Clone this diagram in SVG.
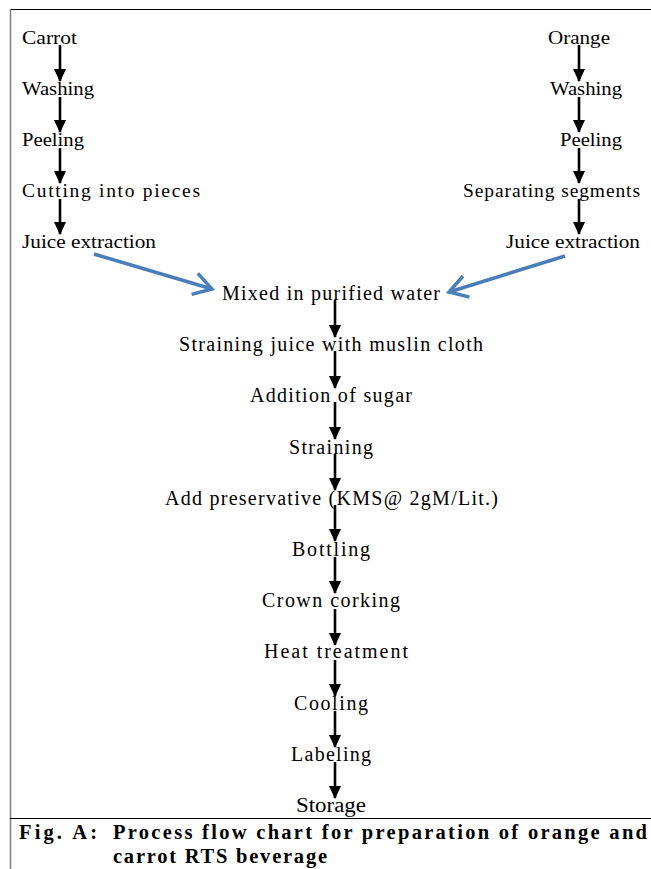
<svg xmlns="http://www.w3.org/2000/svg" width="651" height="869" viewBox="0 0 651 869">
<defs>
<marker id="ah" markerUnits="userSpaceOnUse" markerWidth="14" markerHeight="14" viewBox="0 0 14 14" refX="12" refY="7" orient="auto">
<path d="M0,1 L13,7 L0,13 Z" fill="#000"/>
</marker>
<marker id="bh" markerUnits="userSpaceOnUse" markerWidth="30" markerHeight="30" viewBox="0 0 30 30" refX="26" refY="15" orient="auto">
<path d="M8,4 L26,15 L8,26" fill="none" stroke="#4a7ebb" stroke-width="3.5" stroke-linejoin="miter"/>
</marker>
<style>
.t{font-family:"Liberation Serif","DejaVu Serif",serif;font-size:19.5px;fill:#000}
.u{font-family:"Liberation Serif","DejaVu Serif",serif;font-size:20px;fill:#000}
.c{font-family:"Liberation Serif","DejaVu Serif",serif;font-size:20.5px;font-weight:bold;fill:#000}
.a{stroke:#000;stroke-width:2.6;fill:none;marker-end:url(#ah)}
.b{stroke:#4a7ebb;stroke-width:3.5;fill:none;marker-end:url(#bh)}
</style>
</defs>
<rect width="651" height="869" fill="#fff"/>
<g id="frame">
<line x1="10" y1="9.5" x2="651" y2="9.5" stroke="#000" stroke-width="1"/>
<line x1="10.5" y1="9" x2="10.5" y2="869" stroke="#808080" stroke-width="1.5"/>
<line x1="10" y1="818.5" x2="651" y2="818.5" stroke="#000" stroke-width="1.2"/>
</g>
<g id="connectors">
<line class="a" x1="60" y1="45" x2="60" y2="81"/>
<line class="a" x1="60" y1="97" x2="60" y2="132"/>
<line class="a" x1="60" y1="148" x2="60" y2="183"/>
<line class="a" x1="60" y1="199" x2="60" y2="234"/>
<line class="a" x1="579" y1="45" x2="579" y2="81"/>
<line class="a" x1="579" y1="97" x2="579" y2="132"/>
<line class="a" x1="579" y1="148" x2="579" y2="183"/>
<line class="a" x1="579" y1="199" x2="579" y2="234"/>
<line class="b" x1="94" y1="254" x2="212" y2="289"/>
<line class="b" x1="565" y1="256" x2="449" y2="292"/>
<line class="a" x1="335" y1="300" x2="335" y2="337"/>
<line class="a" x1="335" y1="351" x2="335" y2="388"/>
<line class="a" x1="335" y1="402" x2="335" y2="439"/>
<line class="a" x1="335" y1="454" x2="335" y2="490"/>
<line class="a" x1="335" y1="505" x2="335" y2="541"/>
<line class="a" x1="335" y1="557" x2="335" y2="593"/>
<line class="a" x1="335" y1="609" x2="335" y2="645"/>
<line class="a" x1="335" y1="660" x2="335" y2="696"/>
<line class="a" x1="335" y1="711" x2="335" y2="747"/>
<line class="a" x1="335" y1="762" x2="335" y2="798"/>
</g>
<g id="carrot"><text class="t" x="22" y="44" textLength="55" lengthAdjust="spacingAndGlyphs">Carrot</text></g>
<g id="c-washing"><text class="t" x="22" y="95" textLength="72" lengthAdjust="spacingAndGlyphs">Washing</text></g>
<g id="c-peeling"><text class="t" x="22" y="146" textLength="62" lengthAdjust="spacingAndGlyphs">Peeling</text></g>
<g id="c-cutting"><text class="t" x="22" y="197" textLength="178" lengthAdjust="spacing">Cutting into pieces</text></g>
<g id="c-juice"><text class="t" x="22" y="248" textLength="134" lengthAdjust="spacingAndGlyphs">Juice extraction</text></g>
<g id="orange"><text class="t" x="548" y="44" textLength="62" lengthAdjust="spacingAndGlyphs">Orange</text></g>
<g id="o-washing"><text class="t" x="550" y="95" textLength="72" lengthAdjust="spacingAndGlyphs">Washing</text></g>
<g id="o-peeling"><text class="t" x="560" y="146" textLength="62" lengthAdjust="spacingAndGlyphs">Peeling</text></g>
<g id="o-separating"><text class="t" x="463" y="197" textLength="177" lengthAdjust="spacing">Separating segments</text></g>
<g id="o-juice"><text class="t" x="506" y="248" textLength="134" lengthAdjust="spacingAndGlyphs">Juice extraction</text></g>
<g id="mixed"><text class="u" x="222" y="300" textLength="218" lengthAdjust="spacing">Mixed in purified water</text></g>
<g id="straining-juice"><text class="u" x="179" y="351" textLength="304" lengthAdjust="spacing">Straining juice with muslin cloth</text></g>
<g id="sugar"><text class="u" x="250" y="402" textLength="162" lengthAdjust="spacing">Addition of sugar</text></g>
<g id="straining"><text class="u" x="289" y="454" textLength="84" lengthAdjust="spacing">Straining</text></g>
<g id="preservative"><text class="u" x="165" y="505" textLength="333" lengthAdjust="spacing">Add preservative (KMS@ 2gM/Lit.)</text></g>
<g id="bottling"><text class="u" x="292" y="556" textLength="78" lengthAdjust="spacing">Bottling</text></g>
<g id="crown"><text class="u" x="262" y="607" textLength="138" lengthAdjust="spacing">Crown corking</text></g>
<g id="heat"><text class="u" x="264" y="658" textLength="144" lengthAdjust="spacing">Heat treatment</text></g>
<g id="cooling"><text class="u" x="294" y="710" textLength="74" lengthAdjust="spacing">Cooling</text></g>
<g id="labeling"><text class="u" x="291" y="761" textLength="80" lengthAdjust="spacing">Labeling</text></g>
<g id="storage"><text class="u" x="296" y="812" textLength="70" lengthAdjust="spacingAndGlyphs">Storage</text></g>
<g id="caption">
<text class="c" x="19" y="839" textLength="78" lengthAdjust="spacing">Fig. A:</text>
<text class="c" x="113" y="839" textLength="534" lengthAdjust="spacing">Process flow chart for preparation of orange and</text>
<text class="c" x="113" y="863" textLength="214" lengthAdjust="spacing">carrot RTS beverage</text>
</g>
</svg>
